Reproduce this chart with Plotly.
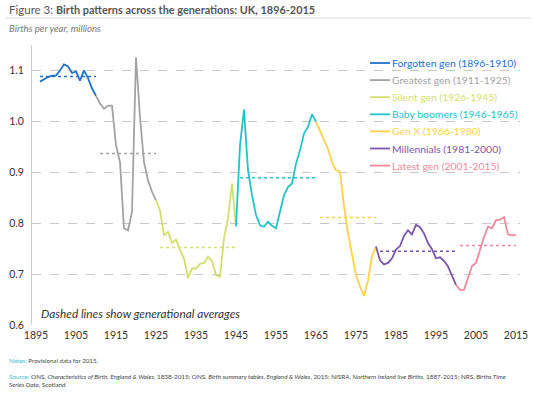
import plotly.graph_objects as go

# ---- data ----
gen_names = ["Forgotten gen", "Greatest gen", "Silent gen", "Baby boomers",
             "Gen X", "Millennials", "Latest gen"]
gen_start = [1896, 1911, 1926, 1946, 1966, 1981, 2001]
gen_end = [1910, 1925, 1945, 1965, 1980, 2000, 2015]
gen_colors = ["#2172c6", "#a3a3a3", "#d3df6c", "#22c4c9", "#fdd24a", "#7b55a8", "#ee8a9b"]

forgotten = [1.078, 1.083, 1.087, 1.090, 1.090, 1.100, 1.112, 1.108, 1.095, 1.098,
             1.080, 1.100, 1.085, 1.065, 1.050]
greatest = [1.035, 1.025, 1.031, 1.031, 0.953, 0.920, 0.790, 0.786, 0.822, 1.126,
            1.008, 0.920, 0.884, 0.862, 0.845]
silent = [0.825, 0.776, 0.783, 0.761, 0.768, 0.747, 0.731, 0.692, 0.711, 0.711,
          0.720, 0.722, 0.734, 0.726, 0.698, 0.695, 0.770, 0.809, 0.878, 0.794]
boomers = [0.953, 1.023, 0.904, 0.855, 0.816, 0.796, 0.793, 0.803, 0.795, 0.790,
           0.825, 0.855, 0.871, 0.878, 0.917, 0.943, 0.976, 0.989, 1.014, 0.999]
genx = [0.982, 0.963, 0.946, 0.920, 0.904, 0.901, 0.834, 0.780, 0.737, 0.698,
        0.676, 0.657, 0.687, 0.735, 0.754]
millennials = [0.727, 0.719, 0.722, 0.731, 0.748, 0.755, 0.775, 0.786, 0.778, 0.797,
               0.792, 0.780, 0.761, 0.749, 0.731, 0.733, 0.726, 0.715, 0.698, 0.679]
latest = [0.669, 0.669, 0.695, 0.716, 0.722, 0.747, 0.773, 0.793, 0.790, 0.806,
          0.807, 0.812, 0.778, 0.776, 0.777]
gen_values = [forgotten, greatest, silent, boomers, genx, millennials, latest]
gen_averages = [1.088, 0.937, 0.752, 0.889, 0.811, 0.745, 0.756]

x_ticks = list(range(1895, 2016, 10))
y_ticks = [0.6, 0.7, 0.8, 0.9, 1.0, 1.1]

FONT = "Lato, 'Open Sans', sans-serif"
W, H = 535, 395
ML, MR, MT, MB = 32, 15, 45, 70
PW, PH = W - ML - MR, H - MT - MB


def px(x):
    return (x - ML) / PW


def py(y):
    return (H - MB - y) / PH


fig = go.Figure()

prev_year, prev_val = None, None
for name, s, e, col, vals in zip(gen_names, gen_start, gen_end, gen_colors, gen_values):
    xs = list(range(s, e + 1))
    ys = list(vals)
    if prev_year is not None:
        xs = [prev_year] + xs
        ys = [prev_val] + ys
    fig.add_trace(go.Scatter(
        x=xs, y=ys, mode="lines",
        line=dict(color=col, width=1.8),
        name=f"{name} ({s}-{e})",
        showlegend=False, hoverinfo="skip",
    ))
    prev_year, prev_val = e, vals[-1]

for s, e, col, avg in zip(gen_start, gen_end, gen_colors, gen_averages):
    fig.add_trace(go.Scatter(
        x=[s, e], y=[avg, avg], mode="lines",
        line=dict(color=col, width=1.5, dash="dot"),
        showlegend=False, hoverinfo="skip",
    ))

annotations = [
    dict(x=px(7), y=py(9), xref="paper", yref="paper", xanchor="left", yanchor="middle",
         showarrow=False,
         text='<span style="color:#555555;font-size:11.5px">Figure 3:</span> '
              '<b><span style="color:#555555;font-size:10.9px">Birth patterns across the generations: UK, 1896-2015</span></b>'),
    dict(x=px(7), y=py(29), xref="paper", yref="paper", xanchor="left", yanchor="middle",
         showarrow=False, text="<i>Births per year, millions</i>",
         font=dict(size=9.6, color="#777777")),
    dict(x=px(39), y=py(313), xref="paper", yref="paper", xanchor="left", yanchor="middle",
         showarrow=False, text="<i>Dashed lines show generational averages</i>",
         font=dict(size=11.8, color="#333333")),
    dict(x=px(7), y=py(360), xref="paper", yref="paper", xanchor="left", yanchor="middle",
         showarrow=False,
         text='<span style="color:#3cc0c8">Notes:</span> Provisional data for 2015.',
         font=dict(size=6.2, color="#444444")),
    dict(x=px(7), y=py(380), xref="paper", yref="paper", xanchor="left", yanchor="middle",
         showarrow=False, align="left",
         text='<span style="color:#3cc0c8">Source:</span> ONS, <i>Characteristics of Birth, England &amp; Wales</i>, 1838-2015; '
              'ONS, <i>Birth summary tables, England &amp; Wales</i>, 2015; NISRA, <i>Northern Ireland live Births</i>, 1887-2015; NRS, <i>Births Time</i>'
              '<br><i>Series Data</i>, Scotland',
         font=dict(size=6.3, color="#444444")),
]

shapes = [
    dict(type="line", xref="paper", yref="paper", x0=px(5), x1=px(530), y0=py(18), y1=py(18),
         line=dict(color="#dddddd", width=1)),
]

# custom legend (line sample + coloured label)
for i, (name, s, e, col) in enumerate(zip(gen_names, gen_start, gen_end, gen_colors)):
    yy = 63 + i * 17.1
    shapes.append(dict(type="line", xref="paper", yref="paper",
                       x0=px(370), x1=px(390), y0=py(yy), y1=py(yy),
                       line=dict(color=col, width=1.8)))
    annotations.append(dict(x=px(390), y=py(yy), xref="paper", yref="paper",
                            xanchor="left", yanchor="middle", showarrow=False,
                            text=f"{name} ({s}-{e})",
                            font=dict(size=10.4, color=col)))

fig.update_layout(
    width=W, height=H,
    margin=dict(l=ML, r=MR, t=MT, b=MB, autoexpand=False),
    paper_bgcolor="white", plot_bgcolor="white",
    font=dict(family=FONT, size=11, color="#333333"),
    showlegend=False,
    annotations=annotations,
    shapes=shapes,
    xaxis=dict(range=[1894, 2016], tickvals=x_ticks, ticktext=[str(t) for t in x_ticks],
               showgrid=False, zeroline=False, showline=False, automargin=False,
               tickfont=dict(size=10.5, color="#333333"), ticks="", ticklabelstandoff=2),
    yaxis=dict(range=[0.6, 1.15], tickvals=y_ticks, ticktext=[f"{v:.1f}" for v in y_ticks],
               showgrid=True, gridcolor="#c8c8c8", griddash="dash", gridwidth=1,
               zeroline=False, showline=True, linecolor="#cccccc", linewidth=1,
               automargin=False, ticks="", ticklabelstandoff=5,
               tickfont=dict(size=10.5, color="#333333")),
)

fig.write_html("out.html", config={"displayModeBar": False},
               post_script="document.body.style.margin='0';document.body.style.overflow='hidden';")
